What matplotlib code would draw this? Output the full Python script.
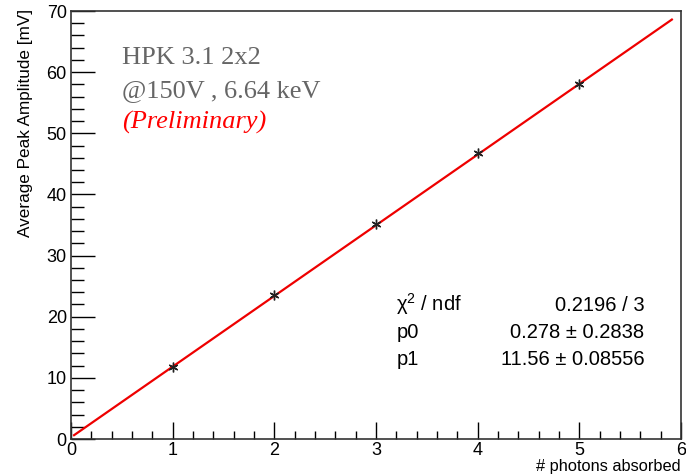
import numpy as np
import matplotlib.pyplot as plt
from matplotlib.ticker import MultipleLocator

# Measured points
n_photons = [1, 2, 3, 4, 5]
amplitude = [11.8, 23.6, 35.2, 46.7, 58.0]

# Linear fit result (pol1)
p0, p0_err = 0.278, 0.2838
p1, p1_err = 11.56, 0.08556
chi2, ndf = 0.2196, 3
fit_range = [0.03, 5.91]

plt.rcParams['font.family'] = ['Liberation Sans', 'DejaVu Sans']
plt.rcParams['mathtext.fontset'] = 'custom'
plt.rcParams['mathtext.rm'] = 'Liberation Sans'

fig = plt.figure(figsize=(6.86, 4.76), dpi=100)
ax = fig.add_axes([71/686, 1 - 439/476, 610/686, 428/476])

# fit line
xf = np.linspace(fit_range[0], fit_range[1], 200)
ax.plot(xf, p0 + p1*xf, color='#ee0000', lw=1.6, zorder=2)

# data points, root-style asterisk markers
ax.plot(n_photons, amplitude, ls='none', marker=(6, 2, 0), ms=7,
        mec='#222222', mew=1.0, zorder=3)

ax.set_xlim(0, 6)
ax.set_ylim(0, 70)
ax.xaxis.set_major_locator(MultipleLocator(1))
ax.xaxis.set_minor_locator(MultipleLocator(0.2))
ax.yaxis.set_major_locator(MultipleLocator(10))
ax.yaxis.set_minor_locator(MultipleLocator(2))
ax.tick_params(axis='x', which='major', direction='in', length=12, width=1, labelsize=13, pad=2)
ax.tick_params(axis='x', which='minor', direction='in', length=6, width=1)
ax.tick_params(axis='y', which='major', direction='in', length=17, width=1, labelsize=13, pad=3)
ax.tick_params(axis='y', which='minor', direction='in', length=9, width=1)
for s in ax.spines.values():
    s.set_linewidth(1.2)
    s.set_color('#333333')

fig.text(681/686, 1 - 466/476, '# photons absorbed', ha='right', va='center', fontsize=11.8)
fig.text(26/686, 1 - 9/476, 'Average Peak Amplitude [mV]', rotation=90,
         ha='center', va='top', fontsize=12.3)

# labels in the upper left
ax.text(0.5, 61.3, 'HPK 3.1 2x2', family='Liberation Serif', color='#666666', fontsize=19)
ax.text(0.5, 56.0, '@150V , 6.64 keV', family='Liberation Serif', color='#666666', fontsize=19)
ax.text(0.5, 50.8, '(Preliminary)', family='Liberation Serif', style='italic', color='#ff0000', fontsize=19)

# fit statistics
rows = [('χ$^2$ / ndf', f'{chi2} / {ndf}'),
        ('p0', f'{p0} ± {p0_err}'),
        ('p1', f'{p1} ± {p1_err}')]
for i, (name, val) in enumerate(rows):
    y = 21.0 - i*4.45
    ax.text(3.2, y, name, fontsize=14.5, ha='left', va='baseline')
    ax.text(5.64, y, val, fontsize=14.5, ha='right', va='baseline')

fig.savefig('out.png', dpi=100)
